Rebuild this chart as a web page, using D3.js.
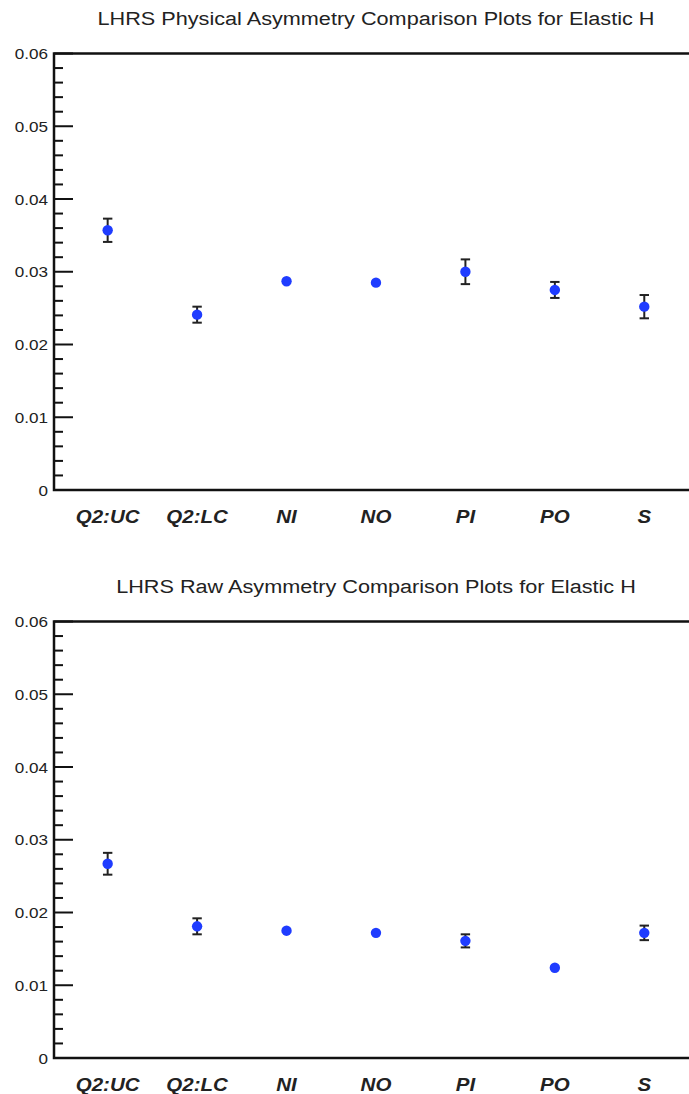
<!DOCTYPE html>
<html>
<head>
<meta charset="utf-8">
<script src="https://cdn.jsdelivr.net/npm/d3@7"></script>
<style>
  html, body { margin: 0; padding: 0; background: #fff; }
  svg { display: block; }
  text { font-family: "Liberation Sans", Arial, Helvetica, sans-serif; fill: #222; }
</style>
</head>
<body>
<svg id="chart" width="689" height="1094"></svg>
<script>
// Detector-position categories along the x axis
const categories = ["Q2:UC", "Q2:LC", "NI", "NO", "PI", "PO", "S"];

// Physical asymmetry and its uncertainty
const physAsym = [0.0357, 0.0241, 0.0287, 0.0285, 0.0300, 0.0275, 0.0252];
const physErr  = [0.0016, 0.0011, 0, 0, 0.0017, 0.0011, 0.0016];

// Raw asymmetry and its uncertainty
const rawAsym = [0.0267, 0.0181, 0.0175, 0.0172, 0.0161, 0.0124, 0.0172];
const rawErr  = [0.0015, 0.0011, 0, 0, 0.0009, 0, 0.0010];

// Shared y-axis ticks
const yMajor = [0, 0.01, 0.02, 0.03, 0.04, 0.05, 0.06];
const yLabels = ["0", "0.01", "0.02", "0.03", "0.04", "0.05", "0.06"];

const svg = d3.select("#chart");
const STRETCH = 1.14;   // horizontal stretch applied to all text
const frame = { left: 54, right: 700, top: 53.5, bottom: 490 };

const x = d3.scaleLinear().domain([-0.6, 6.5]).range([frame.left, 689]);

function stretchedText(g, tx, ty, str, anchor, size, weight, style) {
  return g.append("text")
    .attr("transform", `translate(${tx},${ty}) scale(${STRETCH},1)`)
    .attr("text-anchor", anchor)
    .style("font-size", size + "px")
    .style("font-weight", weight || "normal")
    .style("font-style", style || "normal")
    .text(str);
}

function drawPanel(offsetY, title, values, errors) {
  const g = svg.append("g").attr("transform", `translate(0,${offsetY})`);
  const y = d3.scaleLinear().domain([0, 0.06]).range([frame.bottom, frame.top]);

  // title
  stretchedText(g, 376, 25, title, "middle", 19);

  // minor ticks every 0.002
  const minor = d3.range(0, 0.0601, 0.002).filter(v => Math.abs(v * 100 - Math.round(v * 100)) > 1e-6);
  g.selectAll(".minor").data(minor).join("line")
    .attr("x1", frame.left).attr("x2", frame.left + 9)
    .attr("y1", d => y(d)).attr("y2", d => y(d))
    .attr("stroke", "#111").attr("stroke-width", 2);

  // major ticks
  g.selectAll(".major").data(yMajor).join("line")
    .attr("x1", frame.left).attr("x2", frame.left + 19)
    .attr("y1", d => y(d)).attr("y2", d => y(d))
    .attr("stroke", "#111").attr("stroke-width", 2);

  // tick labels
  yMajor.forEach((v, i) => {
    stretchedText(g, 48, y(v) + 5.5, yLabels[i], "end", 15);
  });

  // frame
  g.append("rect")
    .attr("x", frame.left).attr("y", frame.top)
    .attr("width", frame.right - frame.left).attr("height", frame.bottom - frame.top)
    .attr("fill", "none").attr("stroke", "#111").attr("stroke-width", 2.5);

  // category labels
  categories.forEach((c, i) => {
    stretchedText(g, x(i), 523, c, "middle", 18, "bold", "italic");
  });

  const pts = categories.map((c, i) => ({ i, v: values[i], e: errors[i] }));
  const withErr = pts.filter(d => d.e > 0);

  // error bars
  g.selectAll(".ebar").data(withErr).join("line")
    .attr("x1", d => x(d.i)).attr("x2", d => x(d.i))
    .attr("y1", d => y(d.v - d.e)).attr("y2", d => y(d.v + d.e))
    .attr("stroke", "#222").attr("stroke-width", 2);
  ["lo", "hi"].forEach(side => {
    g.selectAll(".cap-" + side).data(withErr).join("line")
      .attr("x1", d => x(d.i) - 4.7).attr("x2", d => x(d.i) + 4.7)
      .attr("y1", d => y(side === "lo" ? d.v - d.e : d.v + d.e))
      .attr("y2", d => y(side === "lo" ? d.v - d.e : d.v + d.e))
      .attr("stroke", "#222").attr("stroke-width", 2);
  });

  // markers
  g.selectAll(".pt").data(pts).join("circle")
    .attr("cx", d => x(d.i)).attr("cy", d => y(d.v))
    .attr("r", 5.2).attr("fill", "#1f3cff");
}

drawPanel(0, "LHRS Physical Asymmetry Comparison Plots for Elastic H", physAsym, physErr);
drawPanel(568, "LHRS Raw Asymmetry Comparison Plots for Elastic H", rawAsym, rawErr);
</script>
</body>
</html>
